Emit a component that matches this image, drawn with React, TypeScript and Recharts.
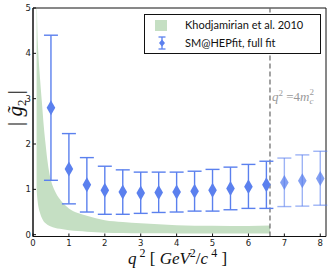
import React from 'react';
import { ComposedChart, Area, Scatter, ErrorBar, XAxis, YAxis, ReferenceLine, ReferenceArea } from 'recharts';

// HEPfit bins
const qBins = [0.5, 1, 1.5, 2, 2.5, 3, 3.5, 4, 4.5, 5, 5.5, 6, 6.5, 7, 7.5, 8];
const g2Central = [2.8, 1.45, 1.1, 0.98, 0.94, 0.92, 0.93, 0.94, 0.96, 0.98, 1.02, 1.06, 1.1, 1.15, 1.19, 1.24];
const g2Low = [1.2, 0.68, 0.5, 0.45, 0.45, 0.47, 0.49, 0.5, 0.52, 0.52, 0.55, 0.58, 0.58, 0.62, 0.63, 0.65];
const g2High = [4.4, 2.23, 1.7, 1.51, 1.43, 1.38, 1.38, 1.38, 1.4, 1.44, 1.49, 1.55, 1.62, 1.69, 1.76, 1.84];

// Khodjamirian et al. 2010 band
const bandQ = [0.1, 0.12, 0.15, 0.2, 0.25, 0.3, 0.35, 0.4, 0.5, 0.6, 0.75, 1, 1.25, 1.5, 2, 2.5, 3, 3.5, 4, 5, 6, 6.6];
const bandLow = [1.0, 0.8, 0.62, 0.47, 0.36, 0.29, 0.25, 0.22, 0.18, 0.155, 0.13, 0.1, 0.08, 0.065, 0.045, 0.037, 0.032, 0.03, 0.028, 0.026, 0.025, 0.025];
const bandHigh = [5.5, 4.6, 4.0, 3.4, 2.9, 2.4, 2.0, 1.65, 1.2, 0.98, 0.78, 0.58, 0.48, 0.42, 0.32, 0.28, 0.25, 0.23, 0.21, 0.195, 0.19, 0.2];

const xTicks = [0, 1, 2, 3, 4, 5, 6, 7, 8];
const yTicks = [0, 1, 2, 3, 4, 5];
const xDomain = [0, 8.16];
const yDomain = [-0.04, 5];
const thresholdQ = 6.6;

const bandData = bandQ.map((q, i) => ({ q, band: [bandLow[i], bandHigh[i]] }));
const fitData = qBins.map((q, i) => ({
    q,
    g2: g2Central[i],
    err: [g2Central[i] - g2Low[i], g2High[i] - g2Central[i]],
}));
const fitBelow = fitData.filter(d => d.q < thresholdQ);
const fitAbove = fitData.filter(d => d.q >= thresholdQ);

const BLUE = '#5b80ee';
const GREEN = '#c5dfc3';
const tickFont = { fontSize: 8.5, fill: '#222', fontFamily: 'DejaVu Sans' };
const serif = 'Liberation Serif';

const XLabel = (props: any) => {
    const vb = props.viewBox;
    const cx = vb.x + vb.width / 2;
    return (
        <text x={cx - 2} y={264} textAnchor="middle" fontFamily={serif} fontSize={17} fill="#111">
            <tspan fontStyle="italic">q</tspan>
            <tspan fontSize={12} dy={-7}> 2</tspan>
            <tspan dy={7}>  [ </tspan>
            <tspan fontStyle="italic">GeV</tspan>
            <tspan fontSize={12} dy={-7}>2</tspan>
            <tspan dy={7}>/</tspan>
            <tspan fontStyle="italic">c</tspan>
            <tspan fontSize={12} dy={-7}> 4</tspan>
            <tspan dy={7}>  ]</tspan>
        </text>
    );
};

const YLabel = () => (
    <text x={0} y={0} transform="translate(22,108) rotate(-90)" textAnchor="middle" fontFamily={serif} fontSize={21} fill="#111">
        <tspan>| </tspan>
        <tspan fontStyle="italic">{'g\u0303'}</tspan>
        <tspan fontSize={13} dy={4}>2</tspan>
        <tspan dy={-4}> |</tspan>
    </text>
);

const ThresholdLabel = (props: any) => {
    const vb = props.viewBox;
    return (
        <text x={vb.x + 2} y={101} fontFamily={serif} fontSize={13} fill="#9a9a9a">
            <tspan fontStyle="italic">q</tspan>
            <tspan fontSize={9} dy={-5}>2</tspan>
            <tspan dy={5}> =4</tspan>
            <tspan fontStyle="italic">m</tspan>
            <tspan fontSize={9} fontStyle="italic" dy={3}>c</tspan>
            <tspan fontSize={9} dx={-4} dy={-9}>2</tspan>
        </text>
    );
};

const LegendBox = () => (
    <div style={{
        position: 'absolute', left: 144, top: 14, width: 177, height: 40,
        border: '1px solid #111', background: '#fff', boxSizing: 'border-box',
        fontFamily: 'Lato', fontSize: 11, color: '#111',
    }}>
        <div style={{ position: 'absolute', left: 10, top: 5, width: 12, height: 11, background: GREEN }} />
        <div style={{ position: 'absolute', left: 40, top: 3, lineHeight: '14px' }}>Khodjamirian et al. 2010</div>
        <svg style={{ position: 'absolute', left: 10, top: 21 }} width={14} height={14}>
            <line x1={7} y1={1} x2={7} y2={13} stroke={BLUE} strokeWidth={1.3} />
            <line x1={3.5} y1={1} x2={10.5} y2={1} stroke={BLUE} strokeWidth={1.3} />
            <line x1={3.5} y1={13} x2={10.5} y2={13} stroke={BLUE} strokeWidth={1.3} />
            <polygon points="7,3.5 10,7 7,10.5 4,7" fill={BLUE} />
        </svg>
        <div style={{ position: 'absolute', left: 40, top: 21, lineHeight: '14px' }}>SM@HEPfit, full fit</div>
    </div>
);

export default function App() {
    return (
        <div style={{ position: 'absolute', left: 0, top: 0, width: 332, height: 275, background: '#fff' }}>
            <ComposedChart width={332} height={275} data={bandData} margin={{ top: 8, right: 6, bottom: 0, left: 0 }}>
                <XAxis xAxisId="b" dataKey="q" type="number" domain={xDomain} ticks={xTicks} allowDataOverflow
                    height={38.5} stroke="#111" tick={tickFont} tickSize={-3} tickMargin={6} label={<XLabel />} />
                <XAxis xAxisId="t" orientation="top" dataKey="q" type="number" domain={xDomain} ticks={xTicks} allowDataOverflow
                    height={0} stroke="#111" tickSize={-3} tickFormatter={() => ''} />
                <YAxis yAxisId="l" type="number" domain={yDomain} ticks={yTicks} allowDataOverflow
                    width={33} stroke="#111" tick={tickFont} tickSize={-3} tickMargin={5} />
                <YAxis yAxisId="r" orientation="right" type="number" domain={yDomain} ticks={yTicks} allowDataOverflow
                    width={0} stroke="#111" tickSize={-3} tickFormatter={() => ''} />
                <Area xAxisId="b" yAxisId="l" dataKey="band" type="monotone" stroke="none" fill={GREEN} fillOpacity={1}
                    isAnimationActive={false} />
                <ReferenceLine xAxisId="b" yAxisId="l" x={thresholdQ} stroke="#666" strokeDasharray="5 3" strokeWidth={1.2}
                    label={<ThresholdLabel />} />
                <Scatter xAxisId="b" yAxisId="l" data={fitBelow} dataKey="g2" fill={BLUE} shape="diamond" legendType="none"
                    isAnimationActive={false}>
                    <ErrorBar dataKey="err" direction="y" width={7} stroke={BLUE} strokeWidth={1.4} isAnimationActive={false} />
                </Scatter>
                <Scatter xAxisId="b" yAxisId="l" data={fitAbove} dataKey="g2" fill={BLUE} fillOpacity={0.75} shape="diamond"
                    isAnimationActive={false}>
                    <ErrorBar dataKey="err" direction="y" width={7} stroke={BLUE} strokeOpacity={0.6} strokeWidth={1.4}
                        isAnimationActive={false} />
                </Scatter>
                <ReferenceArea xAxisId="b" yAxisId="l" x1={xDomain[0]} x2={xDomain[1]} y1={yDomain[0]} y2={yDomain[1]}
                    fill="none" stroke="#111" strokeWidth={1} ifOverflow="visible" />
                <YLabel />
            </ComposedChart>
            <LegendBox />
        </div>
    );
}
